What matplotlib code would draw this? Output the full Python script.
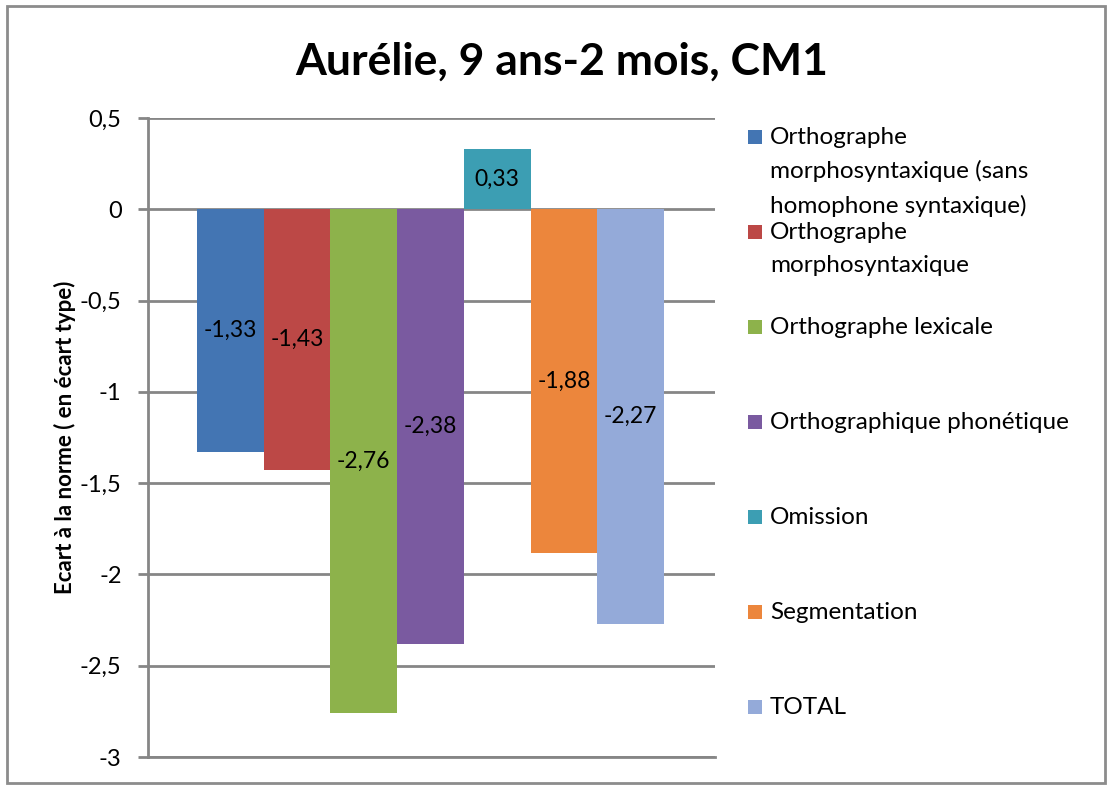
import matplotlib.pyplot as plt
from matplotlib.patches import Rectangle

plt.rcParams['font.family'] = ['Lato', 'DejaVu Sans']

title = 'Aurélie, 9 ans-2 mois, CM1'
ylabel = 'Ecart à la norme ( en écart type)'
series = ['Orthographe\nmorphosyntaxique (sans\nhomophone syntaxique)',
          'Orthographe\nmorphosyntaxique',
          'Orthographe lexicale',
          'Orthographique phonétique',
          'Omission',
          'Segmentation',
          'TOTAL']
values = [-1.33, -1.43, -2.76, -2.38, 0.33, -1.88, -2.27]
colors = ['#4375B3', '#BC4846', '#8DB24B', '#7A5AA0', '#3C9EB3', '#EC863C', '#94AAD9']
yticks = [0.5, 0, -0.5, -1, -1.5, -2, -2.5, -3]

W, H = 1112, 789
fig = plt.figure(figsize=(W / 100, H / 100), dpi=100)
ax = fig.add_axes([148 / W, 1 - 757 / H, (715 - 148) / W, (757 - 118) / H])

x = list(range(len(values)))
bars = ax.bar(x, values, width=1.0, color=colors, zorder=2)
for xi, v in zip(x, values):
	ax.text(xi, v / 2, '{:.2f}'.format(v).replace('.', ','), ha='center', va='center',
	        fontsize=16.5, color='black', zorder=3)

ax.set_xlim(-0.5 - 49 / 67, 6.5 + 51 / 67)
ax.set_ylim(-3, 0.5)
ax.set_yticks(yticks)
ax.set_yticklabels([('%g' % t).replace('.', ',') for t in yticks], fontsize=17)
ax.set_xticks([])
ax.yaxis.grid(True, color='#868686', lw=2)
ax.set_axisbelow(True)
for s in ['top', 'right']:
	ax.spines[s].set_visible(False)
for s in ['left', 'bottom']:
	ax.spines[s].set_color('#868686')
	ax.spines[s].set_linewidth(2)
ax.tick_params(axis='y', length=7, width=2, color='#868686', pad=12)
ax.set_ylabel(ylabel, fontsize=16, fontweight='bold', labelpad=3)

fig.text(0.505, 1 - 62 / H, title, ha='center', va='center', fontsize=32, fontweight='bold')

# legend, one entry every ~95 px
for i, (lab, c) in enumerate(zip(series, colors)):
	yp = 137 + 95 * i
	fig.patches.append(Rectangle((748 / W, 1 - (yp + 7) / H), 14 / W, 14 / H,
	                             transform=fig.transFigure, facecolor=c, edgecolor='none'))
	fig.text(770 / W, 1 - (yp - 10) / H, lab, ha='left', va='top', fontsize=17.5, linespacing=1.68)

fig.patches.append(Rectangle((7 / W, 6 / H), (1105 - 7) / W, (783 - 6) / H, transform=fig.transFigure,
                             facecolor='none', edgecolor='#8C8C8C', lw=2))

plt.savefig('out.png', dpi=100)
